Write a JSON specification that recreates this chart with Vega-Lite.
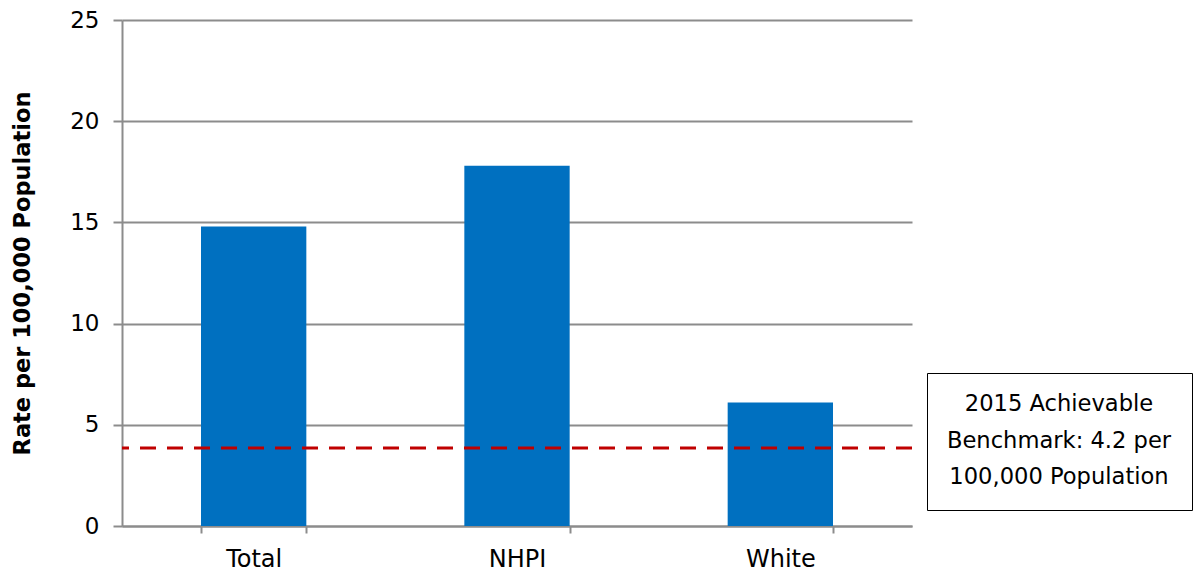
{
  "$schema": "https://vega.github.io/schema/vega-lite/v6.json",
  "width": 790,
  "height": 506,
  "autosize": {"type": "none"},
  "padding": {"left": 122, "top": 20, "right": 282, "bottom": 45},
  "background": "white",
  "config": {
    "view": {"stroke": null},
    "font": "DejaVu Sans"
  },
  "layer": [
    {
      "data": {"values": [
        {"group": "Total", "rate": 14.8},
        {"group": "NHPI", "rate": 17.8},
        {"group": "White", "rate": 6.1}
      ]},
      "mark": {"type": "bar", "color": "#0070c0"},
      "encoding": {
        "x": {
          "field": "group", "type": "nominal", "sort": null,
          "scale": {"paddingInner": 0.6, "paddingOuter": 0.3},
          "axis": {
            "title": null, "labelAngle": 0, "tickBand": "extent",
            "labelFont": "DejaVu Sans", "labelFontSize": 24, "labelColor": "#000000",
            "labelPadding": 14, "tickSize": 7, "tickColor": "#8c8c8c", "tickWidth": 2,
            "domainColor": "#8c8c8c", "domainWidth": 2, "grid": false
          }
        },
        "y": {
          "field": "rate", "type": "quantitative",
          "scale": {"domain": [0, 25], "nice": false},
          "axis": {
            "title": "Rate per 100,000 Population",
            "titleFont": "DejaVu Sans", "titleFontSize": 22.5, "titleFontWeight": "bold", "titleColor": "#000000",
            "titlePadding": 35,
            "values": [0, 5, 10, 15, 20, 25],
            "labelFont": "DejaVu Sans", "labelFontSize": 23, "labelColor": "#000000",
            "labelPadding": 14, "tickSize": 9, "tickColor": "#8c8c8c", "tickWidth": 2,
            "domainColor": "#8c8c8c", "domainWidth": 2,
            "grid": true, "gridColor": "#8c8c8c", "gridWidth": 2
          }
        }
      }
    },
    {
      "data": {"values": [
        {"series": "2015 Achievable Benchmark", "benchmark": 3.85}
      ]},
      "mark": {"type": "rule", "strokeWidth": 3, "strokeDash": [16, 11]},
      "encoding": {
        "y": {"field": "benchmark", "type": "quantitative"},
        "stroke": {
          "field": "series", "type": "nominal",
          "scale": {"range": ["#c00000"]},
          "legend": {
            "orient": "none", "legendX": 805, "legendY": 353,
            "title": ["2015 Achievable", "Benchmark: 4.2 per", "100,000 Population"],
            "titleFont": "DejaVu Sans", "titleFontSize": 22.6, "titleFontWeight": "normal",
            "titleColor": "#000000", "titleLineHeight": 36.5,
            "titleAnchor": "middle", "titleAlign": "center", "titleBaseline": "top",
            "titlePadding": 0, "titleLimit": 400,
            "padding": 20, "strokeColor": "#000000",
            "symbolSize": 0, "symbolOpacity": 0, "symbolStrokeWidth": 0,
            "labelExpr": "''", "labelFontSize": 1, "labelOffset": 0
          }
        }
      }
    }
  ]
}
